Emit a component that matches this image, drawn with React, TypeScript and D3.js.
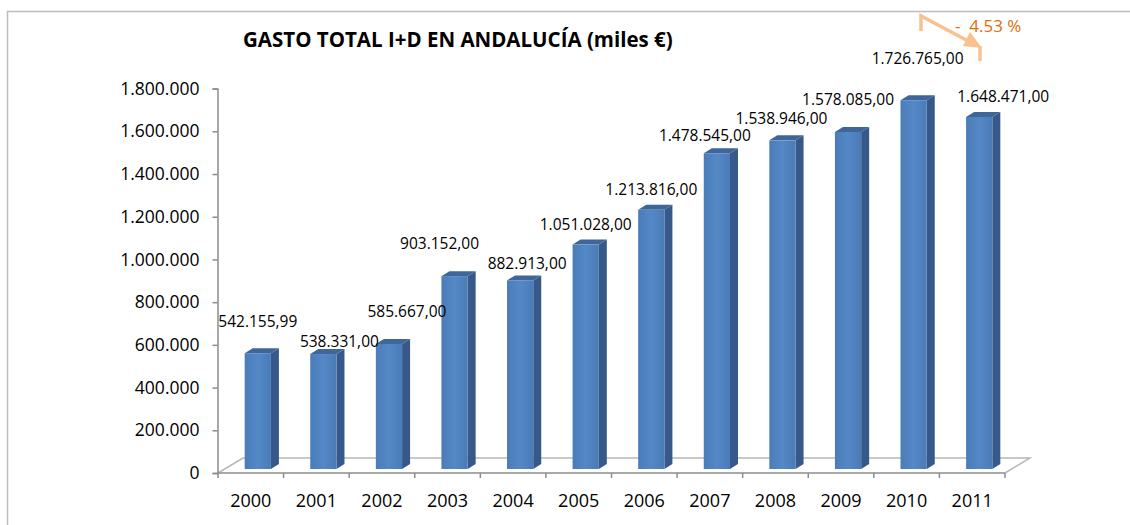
import React, { useRef, useEffect } from "react";
import * as d3 from "d3";

// data (miles €)
const years = ["2000", "2001", "2002", "2003", "2004", "2005", "2006", "2007", "2008", "2009", "2010", "2011"];
const gasto = [542155.99, 538331.0, 585667.0, 903152.0, 882913.0, 1051028.0, 1213816.0, 1478545.0, 1538946.0, 1578085.0, 1726765.0, 1648471.0];
const yTicks = [0, 200000, 400000, 600000, 800000, 1000000, 1200000, 1400000, 1600000, 1800000];
const changeLabel = "-  4.53 %";

// hand placed data labels, like in the original sheet (dx, dy from bar top)
const labelNudge = [
  [0, -31], [16, -12], [18, -32], [-15, -32], [7, -16], [0, -20],
  [0, -20], [-12, -17], [-1, -21], [0, -32], [4, -41], [24, -20],
];

const FONT = "'Open Sans', 'DejaVu Sans', sans-serif";

function App() {
  const canvas = useRef(null);

  useEffect(() => {
    const width = 1130;
    const height = 525;
    const svg = d3.select(canvas.current).attr("width", width).attr("height", height);
    svg.selectAll("*").remove();

    const es = d3.formatLocale({ decimal: ",", thousands: ".", grouping: [3], currency: ["", "€"] });
    const fmtAxis = es.format(",.0f");
    const fmtVal = es.format(",.2f");

    // floor depth and bar depth (fake 3d)
    const floor = { dx: 25, dy: -15 };
    const front = { dx: 7, dy: -4 };
    const depth = { dx: 8, dy: -5 };

    const x = d3.scaleBand().domain(years).range([218, 1005]).padding(0);
    const y = d3.scaleLinear().domain([0, 1800000]).range([473, 88.6]);
    const bw = x.bandwidth() * 0.4;

    // frame
    svg.append("path")
      .attr("d", "M7.5,525V11.5H1130")
      .attr("fill", "none")
      .attr("stroke", "#bcbcbc")
      .attr("stroke-width", 1.5);

    const defs = svg.append("defs");
    const grad = defs.append("linearGradient").attr("id", "barFront").attr("x1", 0).attr("x2", 1).attr("y1", 0).attr("y2", 0);
    grad.append("stop").attr("offset", "0%").attr("stop-color", "#4a7cb9");
    grad.append("stop").attr("offset", "50%").attr("stop-color", "#5488c6");
    grad.append("stop").attr("offset", "100%").attr("stop-color", "#4a7bb7");

    // title
    svg.append("text")
      .attr("x", 243)
      .attr("y", 47)
      .attr("font-family", FONT)
      .attr("font-weight", 700)
      .attr("font-size", 20.5)
      .attr("fill", "#000")
      .text("GASTO TOTAL I+D EN ANDALUCÍA (miles €)");

    // floor
    const x0 = x.range()[0];
    const x1 = x.range()[1];
    const y0 = y(0);
    svg.append("path")
      .attr("d", `M${x0},${y0}L${x0 + floor.dx},${y0 + floor.dy}H${x1 + floor.dx}L${x1},${y0}`)
      .attr("fill", "none")
      .attr("stroke", "#b8b8b8")
      .attr("stroke-width", 1.5);

    // y axis
    const yAxisG = svg.append("g").attr("transform", `translate(${x0 - 0.5}, 0)`);
    yAxisG.call(
      d3.axisLeft(y).tickValues(yTicks).tickFormat((d) => fmtAxis(d)).tickSize(5).tickSizeOuter(5).tickPadding(13)
    );
    yAxisG.selectAll("path, line").attr("stroke", "#8c8c8c").attr("stroke-width", 1.5);
    yAxisG.selectAll("text")
      .attr("font-family", FONT)
      .attr("font-size", 17.5)
      .attr("fill", "#000");

    // x axis line + ticks
    const xAxisG = svg.append("g");
    xAxisG.append("line")
      .attr("x1", x0).attr("x2", x1).attr("y1", y0).attr("y2", y0)
      .attr("stroke", "#8c8c8c").attr("stroke-width", 1.5);
    const bounds = years.map((d) => x(d)).concat([x1]);
    xAxisG.selectAll(".tk")
      .data(bounds)
      .join("line")
      .attr("x1", (d) => d).attr("x2", (d) => d)
      .attr("y1", y0).attr("y2", y0 + 5)
      .attr("stroke", "#8c8c8c").attr("stroke-width", 1.5);
    xAxisG.selectAll(".yr")
      .data(years)
      .join("text")
      .attr("x", (d) => x(d) + x.bandwidth() / 2)
      .attr("y", 507)
      .attr("text-anchor", "middle")
      .attr("font-family", FONT)
      .attr("font-size", 18)
      .attr("fill", "#000")
      .text((d) => d);

    // bars
    const rows = years.map((yr, i) => ({ yr, v: gasto[i], i }));
    const bars = svg.append("g");
    const left = (d) => x(d.yr) + x.bandwidth() * 0.3 + front.dx;
    const top = (d) => y(d.v) + front.dy;
    const bottom = y0 + front.dy;

    bars.selectAll(".side")
      .data(rows)
      .join("path")
      .attr("d", (d) => {
        const l = left(d) + bw;
        return `M${l},${top(d)}L${l + depth.dx},${top(d) + depth.dy}V${bottom + depth.dy}L${l},${bottom}Z`;
      })
      .attr("fill", "#36598a");
    bars.selectAll(".top")
      .data(rows)
      .join("path")
      .attr("d", (d) => {
        const l = left(d);
        const t = top(d);
        return `M${l},${t}L${l + depth.dx},${t + depth.dy}H${l + bw + depth.dx}L${l + bw},${t}Z`;
      })
      .attr("fill", "#3e6699");
    bars.selectAll(".front")
      .data(rows)
      .join("rect")
      .attr("x", left)
      .attr("y", top)
      .attr("width", bw)
      .attr("height", (d) => bottom - top(d))
      .attr("fill", "url(#barFront)");

    // value labels
    svg.append("g")
      .selectAll("text")
      .data(rows)
      .join("text")
      .attr("x", (d) => left(d) + bw / 2 + labelNudge[d.i][0])
      .attr("y", (d) => top(d) + labelNudge[d.i][1] + 5)
      .attr("text-anchor", "middle")
      .attr("font-family", FONT)
      .attr("font-size", 15.5)
      .attr("fill", "#000")
      .text((d) => fmtVal(d.v));

    // change annotation 2010 -> 2011
    const ann = svg.append("g");
    ann.append("path")
      .attr("d", "M921,31V16L970,42")
      .attr("fill", "none")
      .attr("stroke", "#fac08f")
      .attr("stroke-width", 3.5);
    ann.append("path")
      .attr("d", "M980,46V61")
      .attr("fill", "none")
      .attr("stroke", "#fac08f")
      .attr("stroke-width", 3.5);
    ann.append("path")
      .attr("d", "M982,48L963,46L970,32Z")
      .attr("fill", "#fac08f");
    ann.append("text")
      .attr("x", 955)
      .attr("y", 32)
      .attr("font-family", FONT)
      .attr("font-size", 17)
      .attr("fill", "#e46c0a")
      .attr("xml:space", "preserve")
      .style("white-space", "pre")
      .text(changeLabel);
  }, []);

  return (
    <div style={{ position: "absolute", left: 0, top: 0 }}>
      <svg ref={canvas} style={{ display: "block", background: "#fff" }} />
    </div>
  );
}

export default App;
